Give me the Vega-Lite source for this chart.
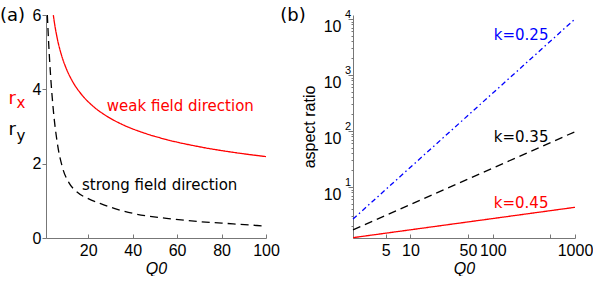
{
  "$schema": "https://vega.github.io/schema/vega-lite/v6.json",
  "padding": {"left": 0, "top": 6, "right": 0, "bottom": 0},
  "spacing": 0,
  "resolve": {"scale": {"color": "independent", "strokeDash": "independent"}},
  "config": {
    "view": {"stroke": null},
    "axis": {
      "labelFont": "Liberation Sans", "labelFontSize": 16, "labelColor": "#000000",
      "titleFont": "Liberation Sans", "titleFontSize": 16, "titleFontWeight": "normal", "titleColor": "#000000",
      "domainColor": "#777777", "tickColor": "#777777", "grid": false,
      "labelFlush": false, "labelOverlap": false, "domainWidth": 1, "tickWidth": 1
    },
    "text": {"font": "DejaVu Sans"}
  },
  "datasets": {
    "curvesA": [
      {"Q0": 4.3, "r": 5.995, "series": "rx"},
      {"Q0": 5, "r": 5.712, "series": "rx"},
      {"Q0": 6, "r": 5.388, "series": "rx"},
      {"Q0": 8, "r": 4.914, "series": "rx"},
      {"Q0": 10, "r": 4.576, "series": "rx"},
      {"Q0": 13, "r": 4.207, "series": "rx"},
      {"Q0": 17, "r": 3.861, "series": "rx"},
      {"Q0": 22, "r": 3.555, "series": "rx"},
      {"Q0": 28, "r": 3.291, "series": "rx"},
      {"Q0": 35, "r": 3.064, "series": "rx"},
      {"Q0": 45, "r": 2.828, "series": "rx"},
      {"Q0": 55, "r": 2.652, "series": "rx"},
      {"Q0": 70, "r": 2.455, "series": "rx"},
      {"Q0": 85, "r": 2.307, "series": "rx"},
      {"Q0": 100, "r": 2.19, "series": "rx"},
      {"Q0": 1.6, "r": 6.0, "series": "ry"},
      {"Q0": 2.2, "r": 5.24, "series": "ry"},
      {"Q0": 3.1, "r": 4.34, "series": "ry"},
      {"Q0": 4.3, "r": 3.44, "series": "ry"},
      {"Q0": 6.1, "r": 2.55, "series": "ry"},
      {"Q0": 8.3, "r": 1.92, "series": "ry"},
      {"Q0": 11.3, "r": 1.49, "series": "ry"},
      {"Q0": 15.1, "r": 1.23, "series": "ry"},
      {"Q0": 20, "r": 1.06, "series": "ry"},
      {"Q0": 25.3, "r": 0.93, "series": "ry"},
      {"Q0": 32, "r": 0.79, "series": "ry"},
      {"Q0": 40.3, "r": 0.66, "series": "ry"},
      {"Q0": 55.2, "r": 0.53, "series": "ry"},
      {"Q0": 70.2, "r": 0.44, "series": "ry"},
      {"Q0": 85.2, "r": 0.38, "series": "ry"},
      {"Q0": 100, "r": 0.32, "series": "ry"}
    ],
    "panelA": [{"Q0": -19.7, "r": 5.85, "text": "(a)"}],
    "rA": [
      {"Q0": -15.9, "r": 3.605, "text": "r", "series": "rx"},
      {"Q0": -15.9, "r": 2.771, "text": "r", "series": "ry"}
    ],
    "subA": [
      {"Q0": -12.3, "r": 3.506, "text": "x", "series": "rx"},
      {"Q0": -12.3, "r": 2.604, "text": "y", "series": "ry"}
    ],
    "annA": [
      {"Q0": 28.36, "r": 3.417, "text": "weak field direction", "series": "rx"},
      {"Q0": 17.2, "r": 1.29, "text": "strong field direction", "series": "ry"}
    ],
    "linesB": [
      {"Q0": 2, "ar": 2.68, "k": "0.25"},
      {"Q0": 1000, "ar": 10000, "k": "0.25"},
      {"Q0": 2, "ar": 1.71, "k": "0.35"},
      {"Q0": 1000, "ar": 97, "k": "0.35"},
      {"Q0": 2, "ar": 1.245, "k": "0.45"},
      {"Q0": 1000, "ar": 4.34, "k": "0.45"}
    ],
    "panelB": [{"Q0": 0.261, "ar": 9325, "text": "(b)"}],
    "expB": [
      {"Q0": 1.597, "ar": 10.42, "text": "1"},
      {"Q0": 1.597, "ar": 104.2, "text": "2"},
      {"Q0": 1.597, "ar": 1042, "text": "3"},
      {"Q0": 1.597, "ar": 10420, "text": "4"}
    ],
    "annB": [
      {"Q0": 103, "ar": 4217, "text": "k=0.25", "k": "0.25"},
      {"Q0": 103, "ar": 64.4, "text": "k=0.35", "k": "0.35"},
      {"Q0": 103, "ar": 4.17, "text": "k=0.45", "k": "0.45"}
    ]
  },
  "hconcat": [
    {
      "width": 220,
      "height": 223,
      "layer": [
        {
          "data": {"name": "curvesA"},
          "mark": {"type": "line", "interpolate": "monotone", "strokeWidth": 1.3},
          "encoding": {
            "x": {"field": "Q0", "type": "quantitative",
              "scale": {"domain": [1, 100], "nice": false, "zero": false},
              "axis": {"values": [20, 40, 60, 80, 100], "format": "d", "tickSize": -4, "labelPadding": 8,
                "title": "Q0", "titleFontStyle": "italic", "titlePadding": 2}},
            "y": {"field": "r", "type": "quantitative",
              "scale": {"domain": [0, 6], "nice": false, "zero": false},
              "axis": {"values": [0, 2, 4, 6], "format": "d", "tickSize": 4, "labelPadding": 1, "title": null}},
            "color": {"field": "series", "type": "nominal",
              "scale": {"domain": ["rx", "ry"], "range": ["#ff0000", "#000000"]}, "legend": null},
            "strokeDash": {"field": "series", "type": "nominal",
              "scale": {"domain": ["rx", "ry"], "range": [[1, 0], [8, 5]]}, "legend": null}
          }
        },
        {
          "data": {"name": "panelA"},
          "mark": {"type": "text", "align": "left", "baseline": "alphabetic", "fontSize": 18, "color": "#000000"},
          "encoding": {
            "x": {"field": "Q0", "type": "quantitative"},
            "y": {"field": "r", "type": "quantitative"},
            "text": {"field": "text"}
          }
        },
        {
          "data": {"name": "rA"},
          "mark": {"type": "text", "align": "left", "baseline": "alphabetic", "fontSize": 18},
          "encoding": {
            "x": {"field": "Q0", "type": "quantitative"},
            "y": {"field": "r", "type": "quantitative"},
            "color": {"field": "series", "type": "nominal", "legend": null},
            "text": {"field": "text"}
          }
        },
        {
          "data": {"name": "subA"},
          "mark": {"type": "text", "align": "left", "baseline": "alphabetic", "fontSize": 15},
          "encoding": {
            "x": {"field": "Q0", "type": "quantitative"},
            "y": {"field": "r", "type": "quantitative"},
            "color": {"field": "series", "type": "nominal", "legend": null},
            "text": {"field": "text"}
          }
        },
        {
          "data": {"name": "annA"},
          "mark": {"type": "text", "align": "left", "baseline": "alphabetic", "fontSize": 15},
          "encoding": {
            "x": {"field": "Q0", "type": "quantitative"},
            "y": {"field": "r", "type": "quantitative"},
            "color": {"field": "series", "type": "nominal", "legend": null},
            "text": {"field": "text"}
          }
        }
      ]
    },
    {
      "width": 222,
      "height": 223,
      "layer": [
        {
          "data": {"name": "linesB"},
          "mark": {"type": "line", "strokeWidth": 1.3},
          "encoding": {
            "x": {"field": "Q0", "type": "quantitative",
              "scale": {"type": "log", "domain": [2, 1000], "nice": false},
              "axis": {"values": [5, 10, 50, 100, 500, 1000], "labelExpr": "datum.value == 500 ? '' : '' + datum.value",
                "tickSize": -4, "labelPadding": 8, "title": "Q0", "titleFontStyle": "italic", "titlePadding": 2}},
            "y": {"field": "ar", "type": "quantitative",
              "scale": {"type": "log", "domain": [1.228, 11787], "nice": false},
              "axis": {"values": [2, 3, 4, 5, 6, 7, 8, 9, 10, 20, 30, 40, 50, 60, 70, 80, 90, 100, 200, 300, 400, 500, 600, 700, 800, 900, 1000, 2000, 3000, 4000, 5000, 6000, 7000, 8000, 9000, 10000],
                "labelExpr": "indexof([10, 100, 1000, 10000], datum.value) >= 0 ? '10' : ''",
                "labelBaseline": "top",
                "tickSize": {"condition": {"test": "indexof([10, 100, 1000, 10000], datum.value) >= 0", "value": 5}, "value": 2},
                "labelPadding": 7, "title": "aspect ratio", "titlePadding": 6}},
            "color": {"field": "k", "type": "nominal",
              "scale": {"domain": ["0.25", "0.35", "0.45"], "range": ["#0000ff", "#000000", "#ff0000"]}, "legend": null},
            "strokeDash": {"field": "k", "type": "nominal",
              "scale": {"domain": ["0.25", "0.35", "0.45"], "range": [[5, 3, 1.5, 3], [8, 5], [1, 0]]}, "legend": null}
          }
        },
        {
          "data": {"name": "panelB"},
          "mark": {"type": "text", "align": "left", "baseline": "alphabetic", "fontSize": 18, "color": "#000000"},
          "encoding": {
            "x": {"field": "Q0", "type": "quantitative"},
            "y": {"field": "ar", "type": "quantitative"},
            "text": {"field": "text"}
          }
        },
        {
          "data": {"name": "expB"},
          "mark": {"type": "text", "align": "left", "baseline": "alphabetic", "fontSize": 11, "font": "Liberation Sans", "color": "#000000"},
          "encoding": {
            "x": {"field": "Q0", "type": "quantitative"},
            "y": {"field": "ar", "type": "quantitative"},
            "text": {"field": "text"}
          }
        },
        {
          "data": {"name": "annB"},
          "mark": {"type": "text", "align": "left", "baseline": "alphabetic", "fontSize": 15},
          "encoding": {
            "x": {"field": "Q0", "type": "quantitative"},
            "y": {"field": "ar", "type": "quantitative"},
            "color": {"field": "k", "type": "nominal", "legend": null},
            "text": {"field": "text"}
          }
        }
      ]
    }
  ]
}
